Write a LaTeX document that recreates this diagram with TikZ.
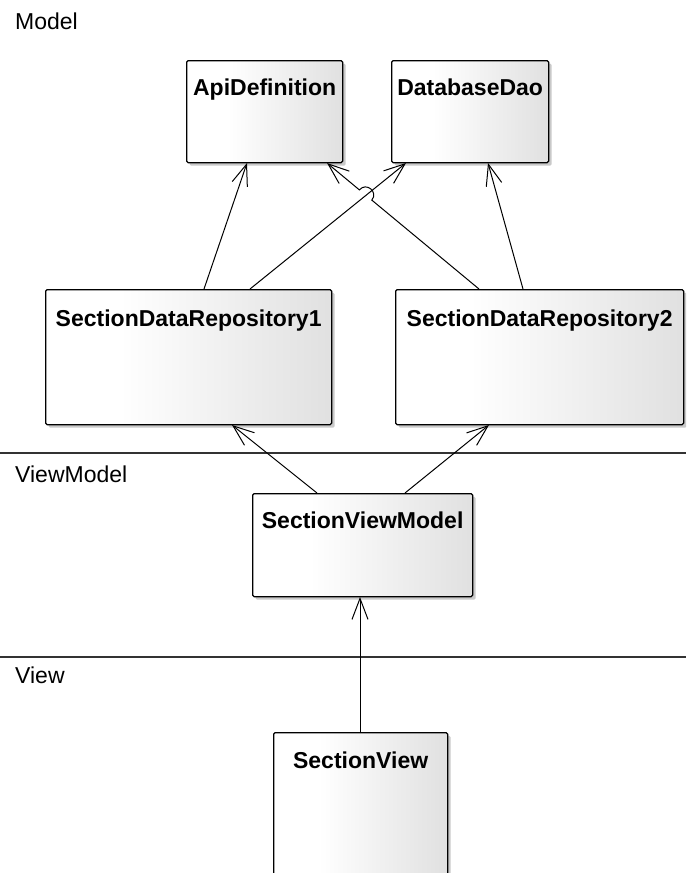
\documentclass[tikz,border=0pt]{standalone}
\usepackage{fontspec}
\setmainfont{Liberation Sans}
\usetikzlibrary{arrows.meta,shadows,calc}
\pgfdeclarehorizontalshading{boxshade}{100bp}{color(0bp)=(white); color(25bp)=(white); color(38bp)=(white); color(75bp)=(black!12); color(100bp)=(black!12)}
\tikzset{
  umlbox/.style={draw=black, line width=1.3pt, rounded corners=1.5pt, shading=boxshade,
    anchor=north west, inner sep=0pt,
    drop shadow={shadow xshift=3pt, shadow yshift=-3pt, fill=black!35, opacity=0.6}},
  boxtitle/.style={anchor=base, font=\fontsize{23}{27}\selectfont\bfseries, inner sep=0pt},
  layerlabel/.style={anchor=base west, font=\fontsize{23}{27}\selectfont, inner sep=0pt},
  sepline/.style={draw=black!80, line width=1.3pt},
  assoc/.style={draw=black, line width=1pt, -{Straight Barb[length=21pt,width=16pt,line width=1pt]}}
}
\begin{document}
\begin{tikzpicture}[x=1pt,y=-1pt]
\clip (0,0) rectangle (686,873);
\fill[white] (0,0) rectangle (686,873);

% layer separators and labels
\coordinate (s1l) at (0,453); \coordinate (s1r) at (686,453);
\coordinate (s2l) at (0,657); \coordinate (s2r) at (686,657);
\draw[sepline] (s1l) -- (s1r);
\draw[sepline] (s2l) -- (s2r);
\node[layerlabel] (lmodel) at (15,29) {Model};
\node[layerlabel] (lvm) at (15,482) {ViewModel};
\node[layerlabel] (lview) at (15,683) {View};

% boxes
\node[umlbox, minimum width=156pt, minimum height=102pt] (api) at (186,60) {};
\node[umlbox, minimum width=157pt, minimum height=102pt] (dao) at (391,60) {};
\node[umlbox, minimum width=286pt, minimum height=135pt] (repo1) at (45,289) {};
\node[umlbox, minimum width=288pt, minimum height=135pt] (repo2) at (395,289) {};
\node[umlbox, minimum width=220pt, minimum height=103pt] (svm) at (252,493) {};
\node[umlbox, minimum width=174pt, minimum height=180pt] (sv) at (273,732) {};

\node[boxtitle] (tapi) at ($(api.north)+(0,35)$) {ApiDefinition};
\node[boxtitle] (tdao) at ($(dao.north)+(0,35)$) {DatabaseDao};
\node[boxtitle] (trepo1) at ($(repo1.north)+(0,37)$) {SectionDataRepository1};
\node[boxtitle] (trepo2) at ($(repo2.north)+(0,37)$) {SectionDataRepository2};
\node[boxtitle] (tsvm) at ($(svm.north)+(0,35)$) {SectionViewModel};
\node[boxtitle] (tsv) at ($(sv.north)+(0,36)$) {SectionView};

% connector end points on box borders
\coordinate (r1a) at (204,289);  \coordinate (apiA) at (247,163);
\coordinate (r1d) at (250,289);  \coordinate (daoA) at (406,163);
\coordinate (r2a) at (479,289);  \coordinate (apiB) at (327,163);
\coordinate (r2d) at (523,289);  \coordinate (daoB) at (488,163);
\coordinate (vm1) at (317,493);  \coordinate (r1b) at (232,425);
\coordinate (vm2) at (405,493);  \coordinate (r2b) at (489,425);
\coordinate (svt) at (360,732);  \coordinate (vmb) at (360,597);
% hop over the crossing
\coordinate (hopA) at (371.8,200.1); \coordinate (hopB) at (359.4,189.9);
\coordinate (hc1) at (378.6,191.9);  \coordinate (hc2) at (366.2,181.7);

\draw[assoc] (r1a) -- (apiA);
\draw[assoc] (r1d) -- (daoA);
\draw[assoc] (r2a) -- (hopA) .. controls (hc1) and (hc2) .. (hopB) -- (apiB);
\draw[assoc] (r2d) -- (daoB);
\draw[assoc] (vm1) -- (r1b);
\draw[assoc] (vm2) -- (r2b);
\draw[assoc] (svt) -- (vmb);
\end{tikzpicture}
\end{document}
